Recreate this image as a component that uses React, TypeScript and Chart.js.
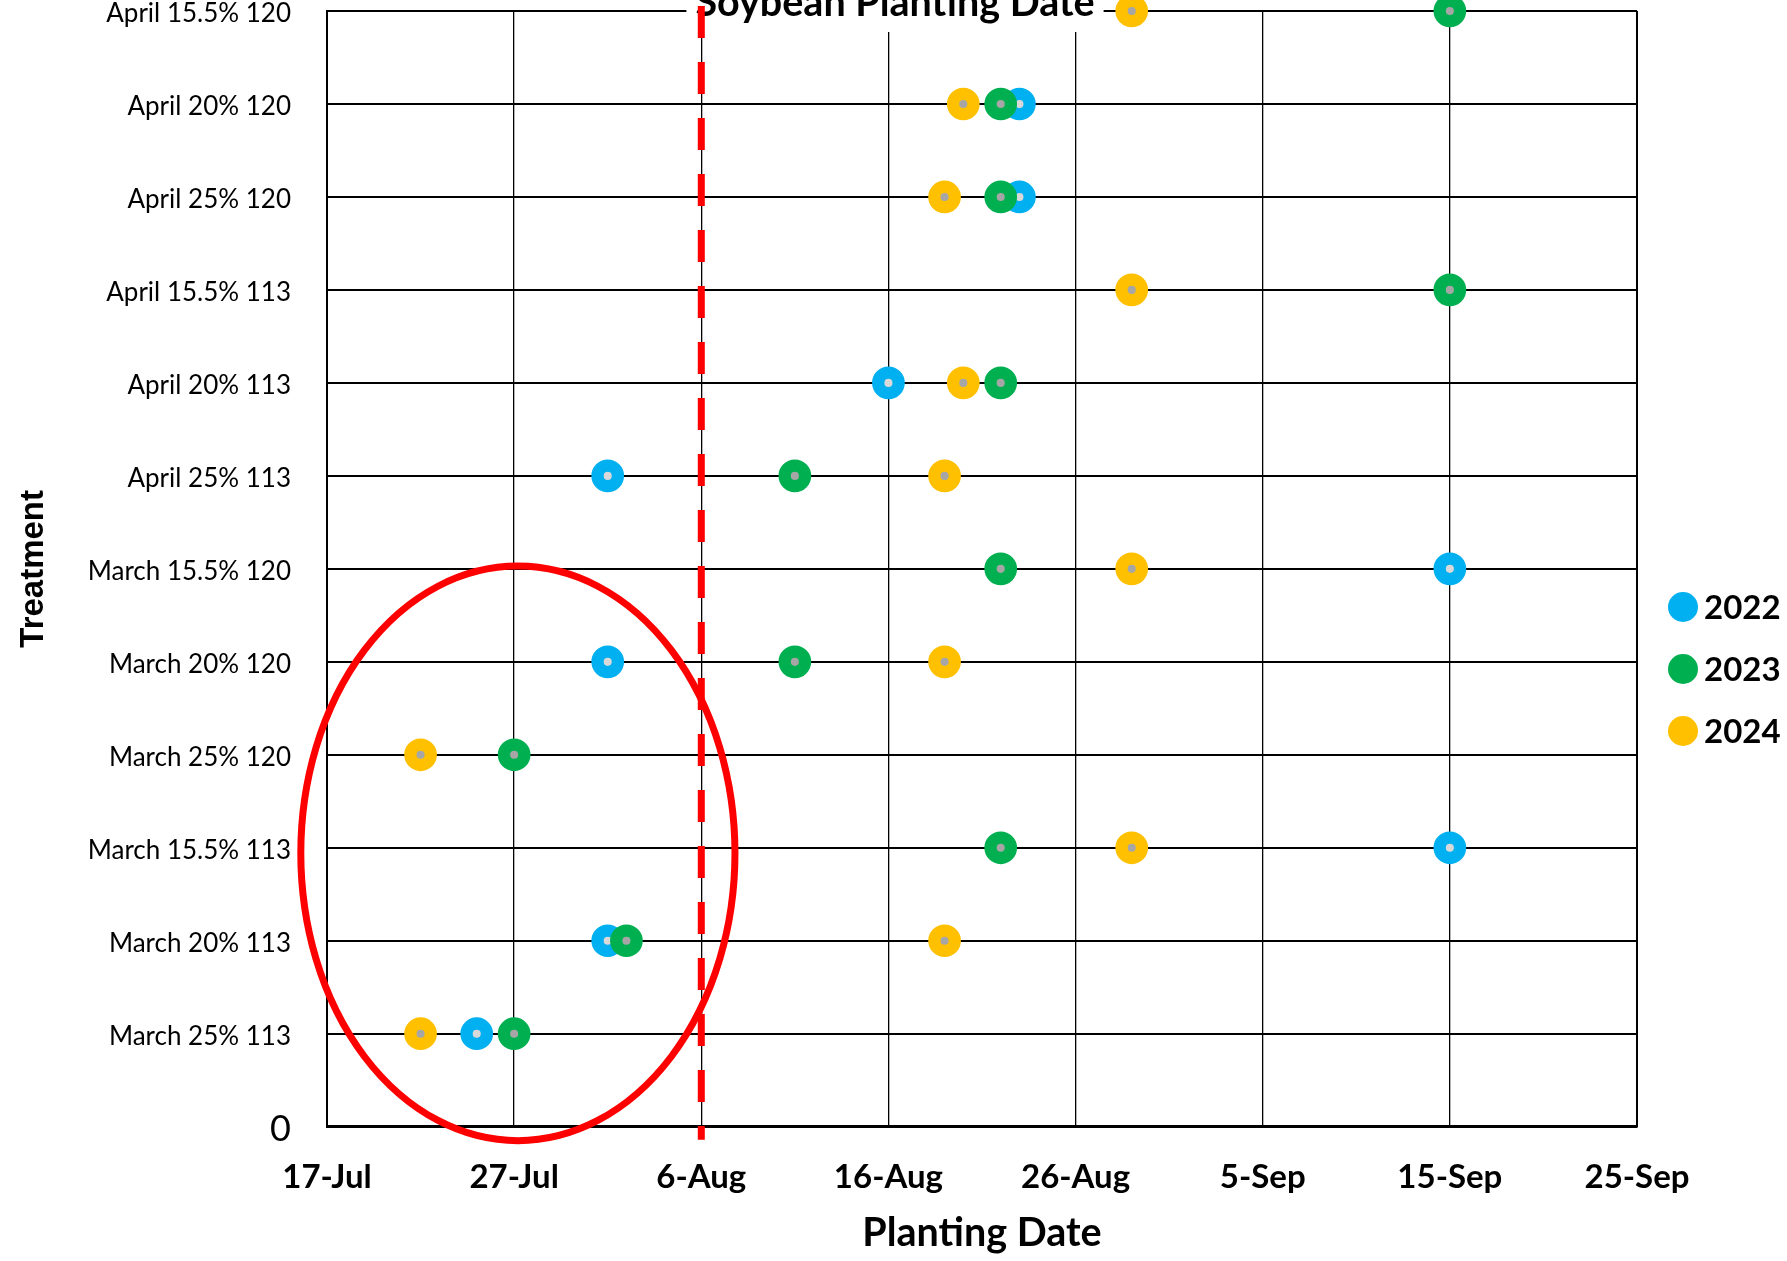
import React, { useEffect, useRef } from 'react';
import { Chart, registerables } from 'chart.js';

Chart.register(...registerables);

// Treatments, bottom row first (row value = index + 1)
const treatments = [
  'March 25% 113',
  'March 20% 113',
  'March 15.5% 113',
  'March 25% 120',
  'March 20% 120',
  'March 15.5% 120',
  'April 25% 113',
  'April 20% 113',
  'April 15.5% 113',
  'April 25% 120',
  'April 20% 120',
  'April 15.5% 120',
];

const xTickLabels = ['17-Jul', '27-Jul', '6-Aug', '16-Aug', '26-Aug', '5-Sep', '15-Sep', '25-Sep'];

const seriesNames = ['2022', '2023', '2024'];

// Soybean planting date per treatment (null = no point)
const dates2022 = ['25-Jul', '1-Aug', '15-Sep', null, '1-Aug', '15-Sep', '1-Aug', '16-Aug', null, '23-Aug', '23-Aug', null];
const dates2023 = ['27-Jul', '2-Aug', '22-Aug', '27-Jul', '11-Aug', '22-Aug', '11-Aug', '22-Aug', '15-Sep', '22-Aug', '22-Aug', '15-Sep'];
const dates2024 = ['22-Jul', '19-Aug', '29-Aug', '22-Jul', '19-Aug', '29-Aug', '19-Aug', '20-Aug', '29-Aug', '19-Aug', '20-Aug', '29-Aug'];

const cutoffDate = '6-Aug';

const seriesColors = ['#00B0F0', '#00B050', '#FFC000'];
const centerColors = ['#D9D9D9', '#A6A6A6', '#A6A6A6'];

const MONTHS: Record<string, number> = { Jul: 6, Aug: 7, Sep: 8 };
const AXIS_START = Date.UTC(2000, 6, 17);

// days after 17-Jul
function dayOffset(label: string): number {
  const [d, m] = label.split('-');
  return Math.round((Date.UTC(2000, MONTHS[m], Number(d)) - AXIS_START) / 86400000);
}

function toPoints(dates: (string | null)[]) {
  const pts: { x: number; y: number }[] = [];
  dates.forEach((d, i) => {
    if (d) pts.push({ x: dayOffset(d), y: i + 1 });
  });
  return pts;
}

const FONT = 'Lato, "Open Sans", sans-serif';

const overlays = {
  id: 'overlays',
  beforeDatasetsDraw(chart: any) {
    const { ctx, chartArea, scales } = chart;
    ctx.save();
    // chart title on a white box, partly above the canvas
    const text = 'Soybean Planting Date';
    ctx.font = `bold 39.5px ${FONT}`;
    const w = ctx.measureText(text).width;
    const cx = 895;
    ctx.fillStyle = '#FFFFFF';
    ctx.fillRect(cx - w / 2 - 9, 0, w + 18, 32);
    ctx.fillStyle = '#000000';
    ctx.textAlign = 'center';
    ctx.textBaseline = 'alphabetic';
    ctx.fillText(text, cx, 16);

    // planting cutoff line
    const x = scales.x.getPixelForValue(dayOffset(cutoffDate));
    ctx.strokeStyle = '#FF0000';
    ctx.lineWidth = 7;
    ctx.setLineDash([32, 24]);
    ctx.beginPath();
    ctx.moveTo(x, chartArea.top - 5);
    ctx.lineTo(x, chartArea.bottom + 13);
    ctx.stroke();
    ctx.restore();
  },
  afterDraw(chart: any) {
    const { ctx, scales, chartArea } = chart;
    ctx.save();
    // highlight of the early-planted group
    const ecx = 10.2, ecy = 2.94, erx = 11.6, ery = 3.09;
    const px = scales.x.getPixelForValue(ecx);
    const py = scales.y.getPixelForValue(ecy);
    const rx = scales.x.getPixelForValue(ecx + erx) - px;
    const ry = py - scales.y.getPixelForValue(ecy + ery);
    ctx.strokeStyle = '#FF0000';
    ctx.lineWidth = 7;
    ctx.beginPath();
    ctx.ellipse(px, py, rx, ry, 0, 0, Math.PI * 2);
    ctx.stroke();

    // legend
    const lx = chartArea.right + 46;
    chart.data.datasets.forEach((ds: any, i: number) => {
      const ly = 607 + i * 62;
      ctx.fillStyle = ds.borderColor;
      ctx.beginPath();
      ctx.arc(lx, ly, 15, 0, Math.PI * 2);
      ctx.fill();
      ctx.fillStyle = '#000000';
      ctx.font = `bold 33px ${FONT}`;
      ctx.textAlign = 'left';
      ctx.textBaseline = 'middle';
      ctx.fillText(ds.label, lx + 21, ly + 1);
    });
    ctx.restore();
  },
};

export default function App() {
  const canvasRef = useRef<HTMLCanvasElement | null>(null);

  useEffect(() => {
    if (!canvasRef.current) return;
    const allDates = [dates2022, dates2023, dates2024];
    const chart = new Chart(canvasRef.current, {
      type: 'scatter',
      data: {
        datasets: seriesNames.map((name, i) => ({
          label: name,
          data: toPoints(allDates[i]),
          borderColor: seriesColors[i],
          backgroundColor: centerColors[i],
          pointBackgroundColor: centerColors[i],
          pointBorderColor: seriesColors[i],
          pointRadius: 10.2,
          pointBorderWidth: 12.3,
          pointHoverRadius: 10.2,
          showLine: false,
          clip: false as any,
          order: seriesNames.length - i,
        })),
      },
      options: {
        animation: false,
        responsive: false,
        devicePixelRatio: 1,
        layout: { autoPadding: false, padding: { top: 11, right: 150, left: 0, bottom: 0 } },
        plugins: {
          legend: { display: false },
          tooltip: { enabled: false },
          title: { display: false },
        },
        scales: {
          x: {
            type: 'linear',
            min: 0,
            max: 70,
            ticks: {
              stepSize: 10,
              autoSkip: false,
              maxRotation: 0,
              color: '#000000',
              padding: 31,
              font: { family: FONT, weight: 'bold', size: 33 },
              callback: (v: any) => xTickLabels[Math.round(Number(v) / 10)],
            },
            grid: {
              color: '#000000',
              drawTicks: false,
              lineWidth: (c: any) => (c.index === 0 || c.index === xTickLabels.length - 1 ? 2 : 1.3),
            },
            border: { color: '#000000', width: 2.5 },
            title: {
              display: true,
              text: 'Planting Date',
              color: '#000000',
              font: { family: FONT, weight: 'bold', size: 39.5 },
              padding: { top: 0, bottom: 4 },
            },
            afterFit: (s: any) => {
              s.height = 134.3;
              s.paddingLeft = 0;
              s.paddingRight = 0;
            },
          },
          y: {
            type: 'linear',
            min: 0,
            max: 12,
            ticks: {
              stepSize: 1,
              autoSkip: false,
              color: '#000000',
              padding: 36,
              labelOffset: 3,
              font: (c: any) =>
                c.tick && c.tick.value === 0
                  ? { family: FONT, size: 36 }
                  : { family: FONT, size: 26 },
              callback: (v: any) => (Number(v) === 0 ? '0' : treatments[Number(v) - 1]),
            },
            grid: { color: '#000000', lineWidth: 2, drawTicks: false },
            border: { color: '#000000', width: 2 },
            title: {
              display: true,
              text: 'Treatment',
              color: '#000000',
              font: { family: '"Liberation Sans", Arial, sans-serif', weight: 'bold', size: 33 },
              padding: { top: 14, bottom: 0 },
            },
            afterFit: (s: any) => {
              s.width = 327;
              s.paddingTop = 0;
              s.paddingBottom = 0;
            },
          },
        },
      } as any,
      plugins: [overlays],
    });
    return () => chart.destroy();
  }, []);

  return (
    <div style={{ position: 'fixed', left: 0, top: 0, width: 1787, height: 1261, background: '#FFFFFF' }}>
      <canvas ref={canvasRef} width={1787} height={1261} style={{ display: 'block' }} />
    </div>
  );
}
